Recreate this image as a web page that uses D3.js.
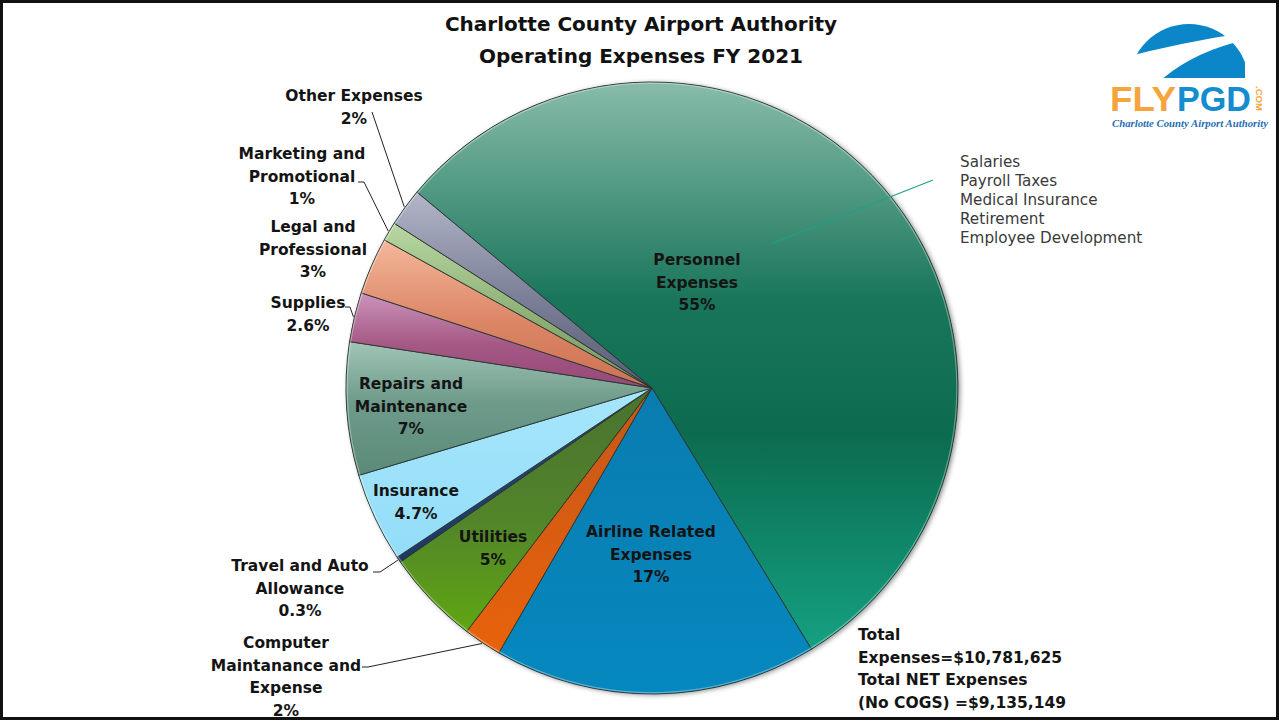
<!DOCTYPE html>
<html lang="en">
<head>
  <meta charset="UTF-8">
  <title>Charlotte County Airport Authority - Operating Expenses FY 2021</title>
  <script src="https://d3js.org/d3.v7.min.js"></script>
  <style>
    body { margin: 0; background: #fff; }
    svg { display: block; }
    .title { font-family: "DejaVu Sans", sans-serif; font-weight: bold; font-size: 20px; fill: #111; }
    .lbl { font-family: "DejaVu Sans", sans-serif; font-weight: bold; font-size: 15.5px; fill: #141414; }
    .items { font-family: "DejaVu Sans", sans-serif; font-size: 15.2px; fill: #3a3a3a; }
    .leader { fill: none; stroke: #222; stroke-width: 1; }
  </style>
</head>
<body>
<svg width="1279" height="721"></svg>
<script>
  // data
  const categories = ["Personnel Expenses", "Airline Related Expenses", "Computer Maintanance and Expense",
    "Utilities", "Travel and Auto Allowance", "Insurance", "Repairs and Maintenance", "Supplies",
    "Legal and Professional", "Marketing and Promotional", "Other Expenses"];
  const shares = [55, 17, 2, 5, 0.3, 4.7, 7, 2.6, 3, 1, 2];
  const pctLabels = ["55%", "17%", "2%", "5%", "0.3%", "4.7%", "7%", "2.6%", "3%", "1%", "2%"];
  const labelLines = [
    ["Personnel", "Expenses"], ["Airline Related", "Expenses"], ["Computer", "Maintanance and", "Expense"],
    ["Utilities"], ["Travel and Auto", "Allowance"], ["Insurance"], ["Repairs and", "Maintenance"],
    ["Supplies"], ["Legal and", "Professional"], ["Marketing and", "Promotional"], ["Other Expenses"]];
  const personnelItems = ["Salaries", "Payroll Taxes", "Medical Insurance", "Retirement", "Employee Development"];
  const totalLines = ["Total", "Expenses=$10,781,625", "Total NET Expenses", "(No COGS) =$9,135,149"];
  const titleLines = ["Charlotte County Airport Authority", "Operating Expenses FY 2021"];

  // styling: gradient stops per slice
  const sliceColors = [
    [["0%", "#88bcaa"], ["38%", "#1a765b"], ["62%", "#0c6b4f"], ["100%", "#14a181"]],
    [["0%", "#0a7caf"], ["100%", "#0588bf"]],
    [["0%", "#c4571a"], ["100%", "#e9620a"]],
    [["0%", "#4a7230"], ["55%", "#52852a"], ["100%", "#60a612"]],
    [["0%", "#2a4a7c"], ["100%", "#1e3864"]],
    [["0%", "#a6e6fb"], ["100%", "#93ddf8"]],
    [["0%", "#a0c5b7"], ["45%", "#6f9b8b"], ["100%", "#5a8a79"]],
    [["0%", "#cb94ba"], ["55%", "#a45884"], ["100%", "#964877"]],
    [["0%", "#f4b79a"], ["55%", "#dc8666"], ["100%", "#cc7252"]],
    [["0%", "#b8d7a2"], ["55%", "#8fb177"], ["100%", "#789a60"]],
    [["0%", "#b3b6c8"], ["55%", "#7a7e96"], ["100%", "#585c74"]]
  ];

  // label anchors (layout)
  const labelPos = [
    {x: 697, y: 265},
    {x: 651, y: 537},
    {x: 286, y: 648, lead: [[362, 667], [368, 667]]},
    {x: 493, y: 542},
    {x: 300, y: 571, lead: [[373, 572], [380, 572]]},
    {x: 416, y: 496},
    {x: 411, y: 389},
    {x: 308, y: 308, lead: [[345, 307], [350, 307]]},
    {x: 313, y: 232},
    {x: 302, y: 159, lead: [[358, 182], [364, 182]]},
    {x: 354, y: 101, lead: [[372, 112]]}
  ];

  const W = 1279, H = 721;
  const cx = 652, cy = 388, R = 306;
  const lineH = 22.5;

  const svg = d3.select("svg");
  const defs = svg.append("defs");

  // outer frame
  svg.append("rect").attr("x", 1.5).attr("y", 1.5).attr("width", W - 3).attr("height", H - 4)
    .attr("fill", "#fff").attr("stroke", "#111").attr("stroke-width", 3);

  // title
  svg.append("g").selectAll("text").data(titleLines).join("text")
    .attr("class", "title").attr("x", 641).attr("y", (d, i) => 31 + i * 32)
    .attr("text-anchor", "middle").text(d => d);

  // gradients
  sliceColors.forEach((stops, i) => {
    const g = defs.append("linearGradient").attr("id", "g" + i)
      .attr("x1", 0).attr("y1", 0).attr("x2", 0).attr("y2", 1);
    stops.forEach(s => g.append("stop").attr("offset", s[0]).attr("stop-color", s[1]));
  });
  const sh = defs.append("filter").attr("id", "shadow").attr("x", "-10%").attr("y", "-10%")
    .attr("width", "120%").attr("height", "120%");
  sh.append("feDropShadow").attr("dx", 2).attr("dy", 1).attr("stdDeviation", 2.5)
    .attr("flood-color", "#000").attr("flood-opacity", 0.45);

  const start = -50.2 * Math.PI / 180;
  const pie = d3.pie().sort(null).value(d => d).startAngle(start).endAngle(start + 2 * Math.PI);
  const arcs = pie(shares);
  const arc = d3.arc().innerRadius(0).outerRadius(R);

  const pg = svg.append("g").attr("transform", `translate(${cx},${cy})`);
  pg.append("circle").attr("r", R).attr("fill", "#0f6d52").attr("filter", "url(#shadow)");
  pg.selectAll("path.slice").data(arcs).join("path")
    .attr("class", "slice")
    .attr("d", arc)
    .attr("fill", (d, i) => `url(#g${i})`)
    .attr("stroke", "#2b3431").attr("stroke-width", 0.9).attr("stroke-linejoin", "round");
  // light edge highlight
  pg.append("circle").attr("r", R - 1.2).attr("fill", "none")
    .attr("stroke", "#ffffff").attr("stroke-opacity", 0.35).attr("stroke-width", 1.2);

  // labels
  const lg = svg.append("g");
  arcs.forEach((a, i) => {
    const p = labelPos[i];
    const lines = labelLines[i].concat([pctLabels[i]]);
    lg.append("text").attr("class", "lbl").attr("text-anchor", "middle")
      .selectAll("tspan").data(lines).join("tspan")
      .attr("x", p.x).attr("y", (d, j) => p.y + j * lineH).text(d => d);
    if (p.lead) {
      const mid = (a.startAngle + a.endAngle) / 2;
      const end = [cx + (R + 1) * Math.sin(mid), cy - (R + 1) * Math.cos(mid)];
      lg.append("path").attr("class", "leader").attr("d", d3.line()(p.lead.concat([end])));
    }
  });

  // personnel breakdown
  svg.append("line").attr("x1", 773).attr("y1", 243).attr("x2", 933).attr("y2", 180)
    .attr("stroke", "#1fa088").attr("stroke-width", 1.1);
  svg.append("text").attr("class", "items").selectAll("tspan").data(personnelItems).join("tspan")
    .attr("x", 960).attr("y", (d, i) => 167 + i * 19).text(d => d);

  // totals
  svg.append("text").attr("class", "lbl").selectAll("tspan").data(totalLines).join("tspan")
    .attr("x", 858).attr("y", (d, i) => 640 + i * 22.5).text(d => d);

  // logo
  const logo = svg.append("g");
  defs.append("clipPath").attr("id", "domeClip").append("rect")
    .attr("x", 1120).attr("y", 15).attr("width", 125).attr("height", 63);
  const dome = logo.append("g").attr("clip-path", "url(#domeClip)");
  dome.append("circle").attr("cx", 1189).attr("cy", 84).attr("r", 60).attr("fill", "#0b87c9");
  dome.append("path").attr("d", "M1122,58 Q1182,42 1250,32 L1250,39 Q1196,50 1161,80 L1122,80 Z").attr("fill", "#fff");
  logo.append("text").attr("x", 1110).attr("y", 111).attr("textLength", 66).attr("lengthAdjust", "spacingAndGlyphs")
    .attr("font-family", "Liberation Sans, sans-serif").attr("font-weight", "bold").attr("font-size", 35)
    .attr("fill", "#f6a53c").text("FLY");
  logo.append("text").attr("x", 1177).attr("y", 111).attr("textLength", 74).attr("lengthAdjust", "spacingAndGlyphs")
    .attr("font-family", "Liberation Sans, sans-serif").attr("font-weight", "bold").attr("font-size", 35)
    .attr("fill", "#138dcf").text("PGD");
  logo.append("text").attr("transform", "translate(1256,86) rotate(90)")
    .attr("textLength", 25).attr("lengthAdjust", "spacingAndGlyphs")
    .attr("font-family", "Liberation Sans, sans-serif").attr("font-weight", "bold").attr("font-size", 9)
    .attr("fill", "#f6a53c").text(".COM");
  logo.append("text").attr("x", 1112).attr("y", 127).attr("textLength", 156).attr("lengthAdjust", "spacingAndGlyphs")
    .attr("font-family", "Liberation Serif, serif").attr("font-weight", "bold").attr("font-style", "italic")
    .attr("font-size", 10).attr("fill", "#1f6fb3").text("Charlotte County Airport Authority");
</script>
</body>
</html>
